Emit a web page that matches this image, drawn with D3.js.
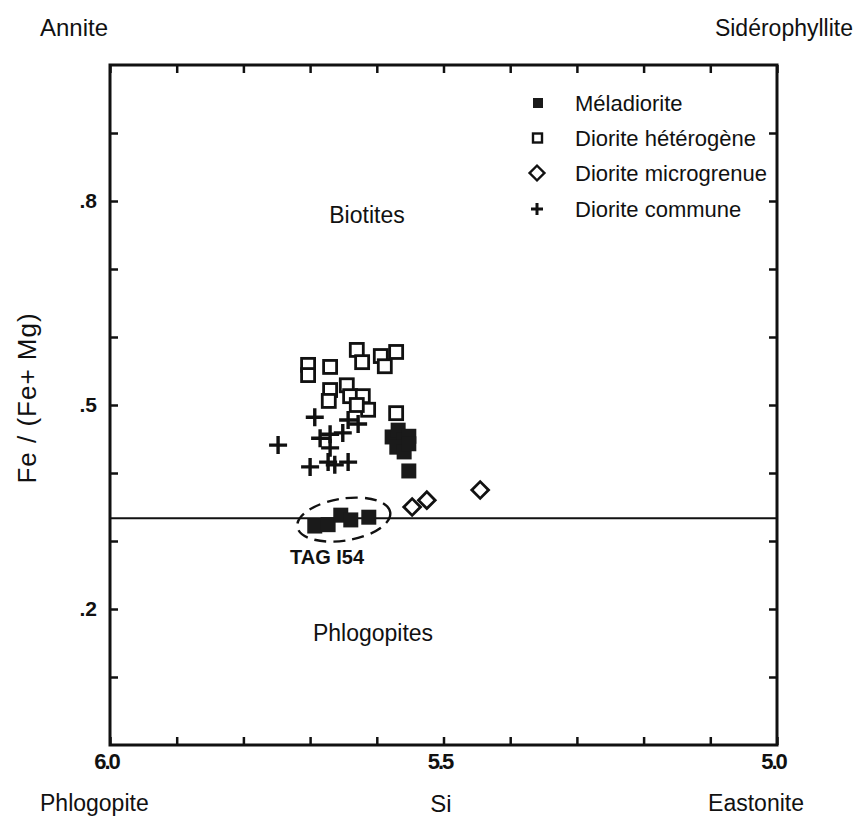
<!DOCTYPE html>
<html>
<head>
<meta charset="utf-8">
<script src="https://cdn.jsdelivr.net/npm/d3@7"></script>
<style>
  body { margin: 0; background: #fff; }
  svg text { font-family: "Liberation Sans", Arial, sans-serif; fill: #111; }
</style>
</head>
<body>
<div id="chart"></div>
<script>
// ---- data ----
const melaSi = [5.577, 5.568, 5.559, 5.552, 5.570, 5.559, 5.552, 5.552, 5.693, 5.673, 5.654, 5.639, 5.612];
const melaFe = [0.453, 0.463, 0.449, 0.454, 0.438, 0.431, 0.443, 0.403, 0.322, 0.324, 0.338, 0.331, 0.335];

const hetSi = [5.703, 5.703, 5.670, 5.630, 5.622, 5.594, 5.588, 5.571, 5.645, 5.670, 5.672, 5.640, 5.621, 5.613, 5.630, 5.571];
const hetFe = [0.559, 0.544, 0.556, 0.581, 0.563, 0.572, 0.557, 0.578, 0.529, 0.522, 0.506, 0.513, 0.513, 0.493, 0.500, 0.488];

const microSi = [5.547, 5.525, 5.445];
const microFe = [0.350, 0.360, 0.375];

const comSi = [5.748, 5.693, 5.685, 5.670, 5.651, 5.643, 5.628, 5.670, 5.700, 5.673, 5.663, 5.643];
const comFe = [0.441, 0.482, 0.451, 0.457, 0.459, 0.478, 0.472, 0.437, 0.409, 0.416, 0.412, 0.416];

const legendLabels = ["Méladiorite", "Diorite hétérogène", "Diorite microgrenue", "Diorite commune"];
const xLabels = [6.0, 5.5, 5.0];
const yLabels = [0.8, 0.5, 0.2];
const boundary = 1 / 3;

const W = 858, H = 818;
const svg = d3.select("#chart").append("svg")
    .attr("width", W).attr("height", H);

const x = d3.scaleLinear().domain([6.0, 5.0]).range([110, 777]);
const y = d3.scaleLinear().domain([0, 1]).range([745, 65]);

// --------------------------- axes (ticks inward) --------------------------- //
const xTicks = d3.range(0, 11).map(i => 6.0 - i * 0.1);
const yTicks = d3.range(1, 10).map(i => i * 0.1);
const near = (v, arr) => arr.some(a => Math.abs(a - v) < 1e-6);

svg.append("g")
    .attr("transform", `translate(0,${y(0)})`)
    .call(d3.axisBottom(x).tickValues(xTicks).tickSizeInner(-8).tickSizeOuter(0).tickPadding(8)
        .tickFormat(d => near(d, xLabels) ? d3.format(".1f")(d) : ""))
    .call(g => g.select(".domain").remove())
    .call(g => g.selectAll("line").attr("stroke", "#111").attr("stroke-width", 2.5))
    .call(g => g.selectAll("text").attr("dx", -4).style("font-size", "22px")
        .style("font-weight", "bold").style("letter-spacing", "-2px"));

svg.append("g")
    .attr("transform", `translate(0,${y(1)})`)
    .call(d3.axisTop(x).tickValues(xTicks).tickSizeInner(-8).tickSizeOuter(0).tickFormat(""))
    .call(g => g.select(".domain").remove())
    .call(g => g.selectAll("line").attr("stroke", "#111").attr("stroke-width", 2.5));

svg.append("g")
    .attr("transform", `translate(${x(6.0)},0)`)
    .call(d3.axisLeft(y).tickValues(yTicks).tickSizeInner(-8).tickSizeOuter(0).tickPadding(13)
        .tickFormat(d => near(d, yLabels) ? d3.format(".1f")(d).replace(/^0/, "") : ""))
    .call(g => g.select(".domain").remove())
    .call(g => g.selectAll("line").attr("stroke", "#111").attr("stroke-width", 2.5))
    .call(g => g.selectAll("text").style("font-size", "21px").style("font-weight", "bold"));

svg.append("g")
    .attr("transform", `translate(${x(5.0)},0)`)
    .call(d3.axisRight(y).tickValues(yTicks).tickSizeInner(-8).tickSizeOuter(0).tickFormat(""))
    .call(g => g.select(".domain").remove())
    .call(g => g.selectAll("line").attr("stroke", "#111").attr("stroke-width", 2.5));

// frame
svg.append("rect")
    .attr("x", x(6.0)).attr("y", y(1))
    .attr("width", x(5.0) - x(6.0)).attr("height", y(0) - y(1))
    .attr("fill", "none").attr("stroke", "#111").attr("stroke-width", 3);

// biotite / phlogopite boundary
svg.append("line")
    .attr("x1", x(6.0)).attr("x2", x(5.0))
    .attr("y1", y(boundary)).attr("y2", y(boundary))
    .attr("stroke", "#111").attr("stroke-width", 2);

// --------------------------- markers --------------------------- //
function zip(a, b) { return a.map((v, i) => [v, b[i]]); }

svg.append("g").selectAll("rect")
    .data(zip(hetSi, hetFe)).enter().append("rect")
    .attr("x", d => x(d[0]) - 6.5).attr("y", d => y(d[1]) - 6.5)
    .attr("width", 13).attr("height", 13)
    .attr("fill", "#fff").attr("stroke", "#111").attr("stroke-width", 2.8);

svg.append("g").selectAll("rect")
    .data(zip(melaSi, melaFe)).enter().append("rect")
    .attr("x", d => x(d[0]) - 7.5).attr("y", d => y(d[1]) - 7.5)
    .attr("width", 15).attr("height", 15)
    .attr("fill", "#1a1a1a");

const diamond = d3.symbol().type(d3.symbolSquare).size(140);
svg.append("g").selectAll("path")
    .data(zip(microSi, microFe)).enter().append("path")
    .attr("d", diamond)
    .attr("transform", d => `translate(${x(d[0])},${y(d[1])}) rotate(45)`)
    .attr("fill", "#fff").attr("stroke", "#111").attr("stroke-width", 2.8);

const plus = "M-9,0H9M0,-9V9";
svg.append("g").selectAll("path")
    .data(zip(comSi, comFe)).enter().append("path")
    .attr("d", plus)
    .attr("transform", d => `translate(${x(d[0])},${y(d[1])})`)
    .attr("stroke", "#111").attr("stroke-width", 3.4);

// dashed ellipse around TAG 154
const tagSi = melaSi.slice(8), tagFe = melaFe.slice(8);
const ex = (d3.min(tagSi.map(x)) + d3.max(tagSi.map(x))) / 2 + 2;
const ey = d3.mean(tagFe.map(y)) - 1;
svg.append("ellipse")
    .attr("cx", ex).attr("cy", ey).attr("rx", 47).attr("ry", 21)
    .attr("transform", `rotate(-9,${ex},${ey})`)
    .attr("fill", "none").attr("stroke", "#111").attr("stroke-width", 2.4)
    .attr("stroke-dasharray", "12,7");

svg.append("text").attr("x", 327).attr("y", 564)
    .attr("text-anchor", "middle").style("font-size", "20px").style("font-weight", "bold")
    .text("TAG I54");

// --------------------------- legend --------------------------- //
const legY = [103, 138, 173, 209];
const lg = svg.append("g");
lg.append("rect").attr("x", 533).attr("y", legY[0] - 5).attr("width", 10).attr("height", 10).attr("fill", "#1a1a1a");
lg.append("rect").attr("x", 533).attr("y", legY[1] - 4.5).attr("width", 9).attr("height", 9)
    .attr("fill", "#fff").attr("stroke", "#111").attr("stroke-width", 2.4);
lg.append("path").attr("d", d3.symbol().type(d3.symbolSquare).size(110))
    .attr("transform", `translate(537,${legY[2]}) rotate(45)`)
    .attr("fill", "#fff").attr("stroke", "#111").attr("stroke-width", 2.4);
lg.append("path").attr("d", "M-6,0H6M0,-6V6").attr("transform", `translate(537,${legY[3]})`)
    .attr("stroke", "#111").attr("stroke-width", 3);
lg.selectAll("text").data(legendLabels).enter().append("text")
    .attr("x", 575).attr("y", (d, i) => legY[i] + 8)
    .style("font-size", "22px").text(d => d);

// --------------------------- labels --------------------------- //
svg.append("text").attr("x", 367).attr("y", 223).attr("text-anchor", "middle")
    .style("font-size", "23px").text("Biotites");
svg.append("text").attr("x", 373).attr("y", 641).attr("text-anchor", "middle")
    .style("font-size", "23px").text("Phlogopites");

svg.append("text").attr("x", 40).attr("y", 36).style("font-size", "24px").text("Annite");
svg.append("text").attr("x", 853).attr("y", 36).attr("text-anchor", "end").style("font-size", "23px").text("Sidérophyllite");
svg.append("text").attr("x", 40).attr("y", 811).style("font-size", "23px").text("Phlogopite");
svg.append("text").attr("x", 804).attr("y", 811).attr("text-anchor", "end").style("font-size", "23px").text("Eastonite");
svg.append("text").attr("x", 441).attr("y", 812).attr("text-anchor", "middle").style("font-size", "24px").text("Si");

svg.append("text")
    .attr("transform", "translate(36,398) rotate(-90)")
    .attr("text-anchor", "middle").style("font-size", "26px").style("letter-spacing", "1px")
    .text("Fe / (Fe+ Mg)");
</script>
</body>
</html>
